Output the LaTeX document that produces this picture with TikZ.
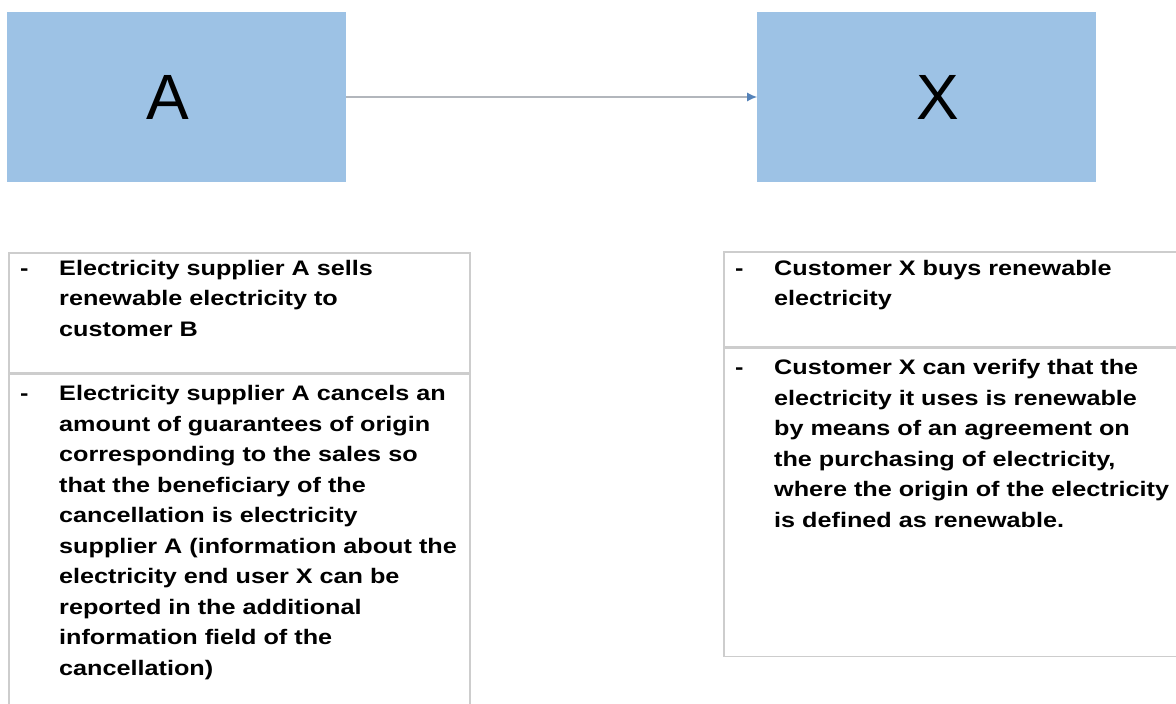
\documentclass[tikz,border=0pt]{standalone}
\usepackage{fontspec}
\usepackage{tikz}
\usetikzlibrary{arrows.meta, positioning}
\newfontfamily\arialfont{Liberation Sans}
\newfontfamily\notefont[FakeStretch=1.2]{Liberation Sans}
\definecolor{boxblue}{RGB}{157,194,229}
\definecolor{tipblue}{RGB}{84,130,185}
\definecolor{linegray}{RGB}{178,182,188}
\definecolor{framegray}{RGB}{205,205,205}

\begin{document}
\begin{tikzpicture}[
        x=1pt, y=1pt,
        party/.style={rectangle, fill=boxblue, minimum width=339pt, minimum height=170pt, inner sep=0pt, font=\arialfont\fontsize{64}{64}\selectfont},
        notebox/.style={rectangle, draw=framegray, line width=1.5pt, minimum width=#1, inner sep=0pt},
        notetext/.style={anchor=base west, text width=440pt, align=left, inner sep=0pt, font=\notefont\bfseries\fontsize{21}{30.5}\selectfont},
        dashmark/.style={anchor=base west, inner sep=0pt, font=\notefont\bfseries\fontsize{21}{30.5}\selectfont},
        arrow/.style={-{Latex[length=10pt, width=9pt, color=tipblue]}, line width=1.5pt, draw=linegray}
    ]
        \useasboundingbox (0,0) rectangle (1176,-704);
        \clip (0,0) rectangle (1176,-704);
        \node[party] (supA) at (176.5,-97) {A\hspace*{18pt}};
        \node[party, right=411pt of supA] (custX) {\hspace*{21pt}X};
        \draw[arrow] (supA) -- (custX);
        \node[notebox=461pt, minimum height=120pt, anchor=north west] (saleframe) at (8,-252) {};
        \node[notebox=461pt, minimum height=360pt, below=0pt of saleframe] (cancelframe) {};
        \node[notebox=470pt, minimum height=95pt, anchor=north west] (buyframe) at (723,-251) {};
        \node[notebox=470pt, minimum height=308pt, below=0pt of buyframe] (verifyframe) {};
        \node[dashmark] (saledash) at ([xshift=12pt, yshift=-23pt]saleframe.north west) {-};
        \node[notetext] (saletext) at ([xshift=51pt, yshift=-23pt]saleframe.north west) {Electricity supplier A sells\\renewable electricity to\\customer B};
        \node[dashmark] (canceldash) at ([xshift=12pt, yshift=-27pt]cancelframe.north west) {-};
        \node[notetext] (canceltext) at ([xshift=51pt, yshift=-27pt]cancelframe.north west) {Electricity supplier A cancels an\\amount of guarantees of origin\\corresponding to the sales so\\that the beneficiary of the\\cancellation is electricity\\supplier A (information about the\\electricity end user X can be\\reported in the additional\\information field of the\\cancellation)};
        \node[dashmark] (buydash) at ([xshift=12pt, yshift=-24pt]buyframe.north west) {-};
        \node[notetext] (buytext) at ([xshift=51pt, yshift=-24pt]buyframe.north west) {Customer X buys renewable\\electricity};
        \node[dashmark] (verifydash) at ([xshift=12pt, yshift=-27pt]verifyframe.north west) {-};
        \node[notetext] (verifytext) at ([xshift=51pt, yshift=-27pt]verifyframe.north west) {Customer X can verify that the\\electricity it uses is renewable\\by means of an agreement on\\the purchasing of electricity,\\where the origin of the electricity\\is defined as renewable.};
    \end{tikzpicture}
\end{document}
